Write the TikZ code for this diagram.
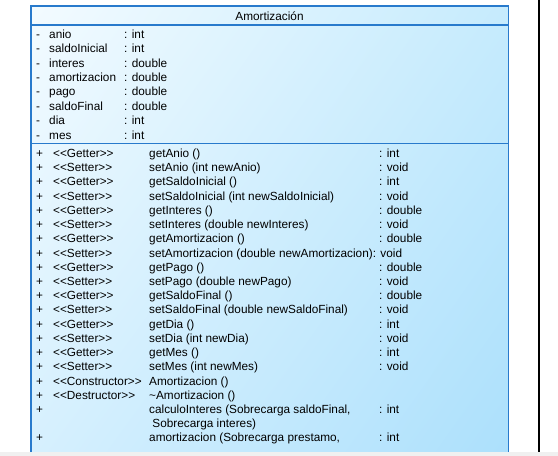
\documentclass[tikz,border=0pt]{standalone}
\usepackage{fontspec}
\setmainfont{Liberation Sans}[Ligatures=TeXOff]
\usetikzlibrary{shadings}
\definecolor{umlborder}{RGB}{40,122,204}
\definecolor{umltl}{RGB}{243,251,255}
\definecolor{umltr}{RGB}{198,235,253}
\definecolor{umlbl}{RGB}{214,240,254}
\definecolor{umlbr}{RGB}{172,224,252}
\definecolor{winbar}{RGB}{240,240,240}
\tikzstyle{member} = [anchor=base west, inner sep=0pt,
    font=\fontsize{11.8}{14}\selectfont]
\tikzstyle{frame} = [draw=umlborder, line width=1.3pt]
\newcommand{\attrrow}[2]{\makebox[13pt][l]{-}\makebox[75pt][l]{#1}: #2}
\newcommand{\oprow}[4]{\makebox[17pt][l]{#1}\makebox[96pt][l]{#2}\makebox[230pt][l]{#3}#4}
\newcommand{\getter}{<\kern0pt<Getter>\kern0pt>}
\newcommand{\setter}{<\kern0pt<Setter>\kern0pt>}

\begin{document}
\begin{tikzpicture}[x=1pt, y=-1pt]
      \useasboundingbox (0,0) rectangle (558,456);
      \shade [upper left=umltl, upper right=umltr, lower left=umlbl, lower right=umlbr]
          (31,6) rectangle (508.5,452);
      \draw [frame] (31,452) -- (31,6) -- (508.5,6) -- (508.5,452);
      \draw [frame] (31,25) -- (508.5,25);
      \draw [frame] (31,143.5) -- (508.5,143.5);
      \draw [line width=1.2pt] (539,0) -- (539,452);
      % class name
      \node [member, anchor=base] (title) at (269.5,20) {Amortización};
      % attributes
      \node [member] (a1) at (36,38.3) {\attrrow{anio}{int}};
      \node [member] (a2) at (36,52.7) {\attrrow{saldoInicial}{int}};
      \node [member] (a3) at (36,67.1) {\attrrow{interes}{double}};
      \node [member] (a4) at (36,81.5) {\attrrow{amortizacion}{double}};
      \node [member] (a5) at (36,95.9) {\attrrow{pago}{double}};
      \node [member] (a6) at (36,110.3) {\attrrow{saldoFinal}{double}};
      \node [member] (a7) at (36,124.7) {\attrrow{dia}{int}};
      \node [member] (a8) at (36,139.1) {\attrrow{mes}{int}};
      % operations
      \node [member] (o1) at (36,157.5) {\oprow{+}{\getter}{getAnio ()}{: int}};
      \node [member] (o2) at (36,171.7) {\oprow{+}{\setter}{setAnio (int newAnio)}{: void}};
      \node [member] (o3) at (36,185.9) {\oprow{+}{\getter}{getSaldoInicial ()}{: int}};
      \node [member] (o4) at (36,200.2) {\oprow{+}{\setter}{setSaldoInicial (int newSaldoInicial)}{: void}};
      \node [member] (o5) at (36,214.4) {\oprow{+}{\getter}{getInteres ()}{: double}};
      \node [member] (o6) at (36,228.6) {\oprow{+}{\setter}{setInteres (double newInteres)}{: void}};
      \node [member] (o7) at (36,242.8) {\oprow{+}{\getter}{getAmortizacion ()}{: double}};
      \node [member] (o8) at (36,257.0) {\oprow{+}{\setter}{setAmortizacion (double newAmortizacion): void}{}};
      \node [member] (o9) at (36,271.3) {\oprow{+}{\getter}{getPago ()}{: double}};
      \node [member] (o10) at (36,285.5) {\oprow{+}{\setter}{setPago (double newPago)}{: void}};
      \node [member] (o11) at (36,299.7) {\oprow{+}{\getter}{getSaldoFinal ()}{: double}};
      \node [member] (o12) at (36,313.9) {\oprow{+}{\setter}{setSaldoFinal (double newSaldoFinal)}{: void}};
      \node [member] (o13) at (36,328.1) {\oprow{+}{\getter}{getDia ()}{: int}};
      \node [member] (o14) at (36,342.4) {\oprow{+}{\setter}{setDia (int newDia)}{: void}};
      \node [member] (o15) at (36,356.6) {\oprow{+}{\getter}{getMes ()}{: int}};
      \node [member] (o16) at (36,370.8) {\oprow{+}{\setter}{setMes (int newMes)}{: void}};
      \node [member] (o17) at (36,385.0) {\oprow{+}{<\kern0pt<Constructor>\kern0pt>}{Amortizacion ()}{}};
      \node [member] (o18) at (36,399.2) {\oprow{+}{<\kern0pt<Destructor>\kern0pt>}{\textasciitilde Amortizacion ()}{}};
      \node [member] (o19) at (36,413.5) {\oprow{+}{}{calculoInteres (Sobrecarga saldoFinal,}{: int}};
      \node [member] (o19b) at (36,427.7) {\oprow{}{}{\ Sobrecarga interes)}{}};
      \node [member] (o20) at (36,441.9) {\oprow{+}{}{amortizacion (Sobrecarga prestamo,}{: int}};
      % window edge
      \fill [winbar] (0,452) rectangle (558,456);
  \end{tikzpicture}
\end{document}
